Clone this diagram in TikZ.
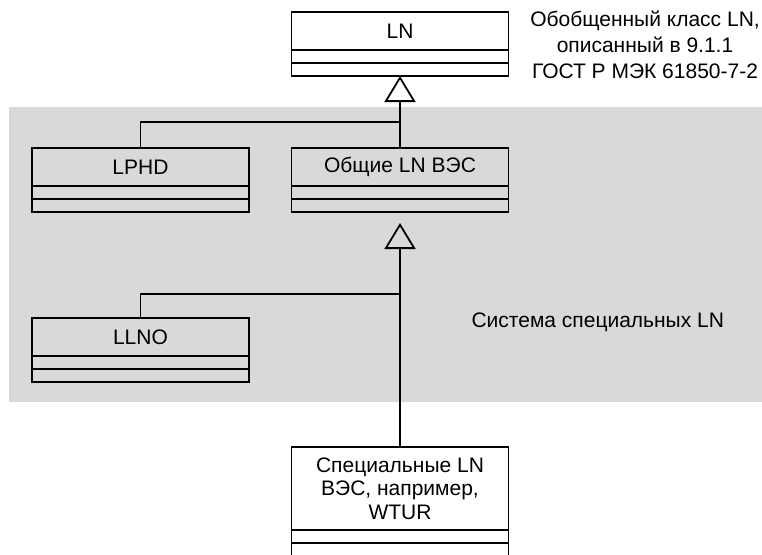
\documentclass[tikz,border=0pt]{standalone}
\usepackage{fontspec}
\setmainfont{Liberation Sans}
\usetikzlibrary{arrows.meta,positioning}
\definecolor{bandgray}{RGB}{217,217,217}

\begin{document}
\begin{tikzpicture}[
  x=1pt,y=1pt,
  every node/.style={font=\fontsize{21}{23.5}\selectfont},
  cls/.style={draw,line width=1.8pt,outer sep=0pt,inner sep=0pt,minimum width=217pt,minimum height=38pt,align=center,anchor=north},
  link/.style={line width=1.8pt},
  gen/.style={link,-{Triangle[open,length=26pt,width=31pt]}}
]
  \useasboundingbox (0,0) rectangle (762,-554);
  \clip (0,0) rectangle (762,-554);
  \fill[bandgray] (9,-107) rectangle (762,-402);

  \node[cls] (ln) at (400,-12) {LN};
  \node[align=center] (note) at (645,-45) {Обобщенный класс LN,\\[2.5pt] описанный в 9.1.1\\[2.5pt] ГОСТ Р МЭК 61850-7-2};
  \node[cls] (lphd) at (140.5,-148) {LPHD};
  \node[cls] (common) at (400,-148) {Общие LN ВЭС};
  \node[cls] (llno) at (140.5,-318) {LLNO};
  \node[anchor=west] (band) at (468,-322) {Система специальных LN};
  \node[cls,minimum height=83pt] (wtur) at (400,-447) {Специальные LN\\ ВЭС, например,\\ WTUR};

  % attribute and operation compartments
  \foreach \n in {ln,lphd,common,llno,wtur}{
    \draw[link] (\n.south west) rectangle ([yshift=-26pt]\n.south east);
    \draw[link] ([yshift=-13pt]\n.south west) -- ([yshift=-13pt]\n.south east);
    \coordinate (\n-bot) at ([yshift=-26pt]\n.south);
  }

  \draw[gen] (common.north) -- (ln-bot);
  \draw[link] (lphd.north) -- ++(0,26) -| (common.north);
  \draw[gen,shorten >=11pt] (wtur.north) -- (common-bot);
  \draw[link] (llno.north) -- ++(0,24) -| (wtur.north);
\end{tikzpicture}
\end{document}
